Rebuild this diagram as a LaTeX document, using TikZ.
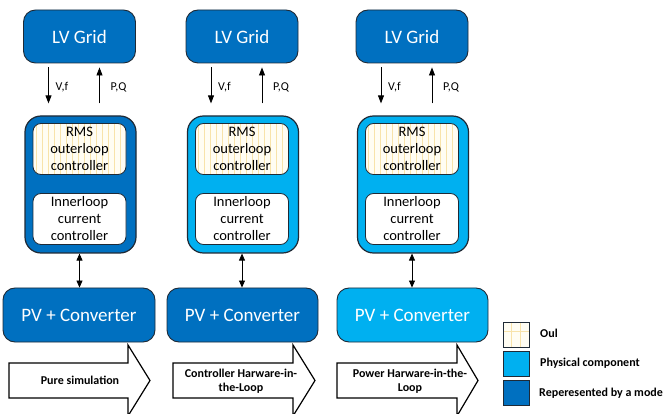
\documentclass[tikz,border=0pt]{standalone}
\usepackage{fontspec}
\setmainfont{Carlito}
\usetikzlibrary{arrows.meta}
\definecolor{modelblue}{HTML}{0070C0}
\definecolor{physblue}{HTML}{00B0F0}
\definecolor{edgegrey}{HTML}{1F2A36}
\definecolor{oulfill}{HTML}{FFFDF3}
\definecolor{oulline}{HTML}{F8E3AA}
\tikzset{
  bigbox/.style={draw=edgegrey, line width=0.9pt, rounded corners=12pt,
    text=white, font=\fontsize{19}{22}\selectfont, inner sep=0pt},
  ctrlbox/.style={draw=edgegrey, line width=1.2pt, rounded corners=16pt, inner sep=0pt},
  subbox/.style={draw=edgegrey, line width=0.8pt, rounded corners=8pt, fill=white,
    align=center, font=\fontsize{14.5}{17}\selectfont, inner sep=0pt,
    minimum width=93pt, minimum height=51pt},
  oul/.style={fill=oulfill, path picture={
      \foreach \i in {3,9,...,130}
        \draw[oulline, line width=0.35pt]
          ([xshift=\i pt]path picture bounding box.south west) --
          ([xshift=\i pt]path picture bounding box.north west);}},
  flow/.style={line width=0.8pt, -{Triangle[length=8pt,width=6pt]}},
  link/.style={line width=0.8pt, {Triangle[length=7pt,width=6pt]}-{Triangle[length=7pt,width=6pt]}},
  flowlbl/.style={font=\fontsize{12}{14}\selectfont, anchor=west, inner sep=0pt},
  stage/.style={draw=black, line width=1.2pt, fill=white, line join=miter},
  stagelbl/.style={font=\bfseries\fontsize{12}{14.5}\selectfont, align=center, inner sep=0pt},
  legbox/.style={draw=edgegrey, line width=0.9pt, minimum width=26pt, minimum height=25pt, inner sep=0pt},
  leglbl/.style={font=\bfseries\fontsize{12}{14}\selectfont, anchor=west, inner sep=0pt}
}
\begin{document}
\begin{tikzpicture}[x=1pt, y=-1pt]
\useasboundingbox (0,0) rectangle (667,414);

% ---------- three set-ups ----------
\foreach \k/\cx/\pvx/\pvw/\ctrlfill/\pvfill in
  {1/79.5/79/152/modelblue/modelblue,
   2/242/242.5/151/physblue/modelblue,
   3/412/412.5/151/physblue/physblue}{
  \node[bigbox, fill=modelblue, minimum width=112pt, minimum height=53pt]
    (grid\k) at (\cx,36.5) {LV Grid};
  \node[ctrlbox, fill=\ctrlfill, minimum width=111pt, minimum height=137pt]
    (ctrl\k) at (\cx+1,184.5) {};
  \node[subbox, oul] (rms\k) at (\cx,149) {RMS\\outerloop\\controller};
  \node[subbox] (inner\k) at (\cx,219) {Innerloop\\current\\controller};
  \node[bigbox, fill=\pvfill, minimum width=\pvw pt, minimum height=54pt]
    (pv\k) at (\pvx,315) {PV + Converter};
  % grid quantities exchanged with the controller
  \coordinate (vfa\k) at ([xshift=-31pt,yshift=-4pt]grid\k.south);
  \coordinate (vfb\k) at ([xshift=-32pt,yshift=12pt]ctrl\k.north);
  \coordinate (pqa\k) at ([xshift=19pt,yshift=12pt]ctrl\k.north);
  \coordinate (pqb\k) at ([xshift=20pt,yshift=-4pt]grid\k.south);
  \draw[flow] (vfa\k) -- (vfb\k |- vfa\k) -- (vfb\k);
  \node[flowlbl] at ([xshift=7pt,yshift=16pt]vfb\k) {V,f};
  \draw[flow] (pqa\k) -- (pqa\k |- pqb\k);
  \node[flowlbl] at ([xshift=11pt,yshift=16pt]pqa\k) {P,Q};
  \draw[link] (ctrl\k.south -| \cx,0) -- (pv\k.north -| \cx,0);
}

% ---------- stage arrows ----------
\draw[stage] (9,363) -- (128,363) -- (128,345) -- (150,380.5) -- (128,416)
  -- (128,398) -- (9,398) -- cycle;
\node[stagelbl] (st1) at (80,380.5) {Pure simulation};
\draw[stage] (173,363) -- (293,363) -- (293,345) -- (315,380.5) -- (293,416)
  -- (293,398) -- (173,398) -- cycle;
\node[stagelbl] (st2) at (241,381) {Controller Harware-in-\\the-Loop};
\draw[stage] (337,363) -- (457,363) -- (457,345) -- (478,380.5) -- (457,416)
  -- (457,398) -- (337,398) -- cycle;
\node[stagelbl] (st3) at (410,381) {Power Harware-in-the-\\Loop};

% ---------- legend ----------
\node[legbox, fill=oulfill, path picture={
    \foreach \i in {8.5,17.5}
      \draw[oulline, line width=0.5pt]
        ([xshift=\i pt]path picture bounding box.south west) --
        ([xshift=\i pt]path picture bounding box.north west);
    \draw[oulline, line width=0.5pt]
      ([yshift=-9pt]path picture bounding box.north west) --
      ([yshift=-9pt]path picture bounding box.north east);}]
  (leg1) at (516,334.5) {};
\node[legbox, fill=physblue] (leg2) at (516,363.5) {};
\node[legbox, fill=modelblue] (leg3) at (516,393) {};
\node[leglbl] at (540,333) {Oul};
\node[leglbl] at (540,363) {Physical component};
\node[leglbl] at (539,393) {Reperesented by a mode};
\end{tikzpicture}
\end{document}
